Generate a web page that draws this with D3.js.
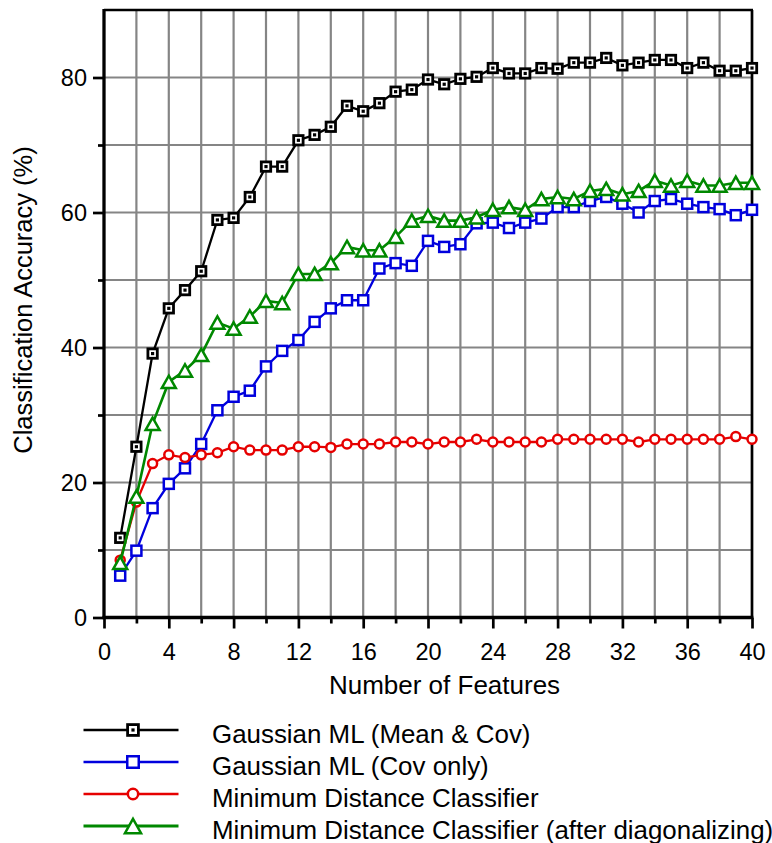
<!DOCTYPE html>
<html><head><meta charset="utf-8">
<script src="https://cdn.jsdelivr.net/npm/d3@7"></script>
<style>
html,body{margin:0;padding:0;background:#fff;}
svg{display:block;font-family:"Liberation Sans",Arial,Helvetica,sans-serif;}
</style></head>
<body>
<svg id="chart" width="772" height="843"></svg>
<script>
const features = [1,2,3,4,5,6,7,8,9,10,11,12,13,14,15,16,17,18,19,20,21,22,23,24,25,26,27,28,29,30,31,32,33,34,35,36,37,38,39,40];
const gaussMeanCov = [11.8,25.3,39.1,45.8,48.5,51.3,58.9,59.2,62.3,66.8, 66.8,70.7,71.5,72.7,75.8,75.0,76.2,77.9,78.2,79.7, 79.0,79.8,80.1,81.4,80.6,80.6,81.4,81.3,82.2,82.2, 82.9,81.8,82.2,82.6,82.6,81.4,82.2,81.0,81.0,81.4];
const gaussCovOnly = [6.2,9.9,16.2,19.8,22.1,25.7,30.7,32.7,33.6,37.2, 39.5,41.1,43.8,45.8,47.0,47.0,51.7,52.5,52.1,55.8, 54.9,55.3,58.4,58.5,57.7,58.5,59.1,60.8,60.8,61.7, 62.3,61.3,60.0,61.7,62.0,61.3,60.8,60.5,59.6,60.4];
const minDist = [8.5,17.1,22.8,24.1,23.7,24.1,24.4,25.3,24.8,24.8, 24.8,25.3,25.3,25.2,25.7,25.7,25.7,26.0,26.0,25.7, 26.0,26.0,26.4,26.0,26.0,26.0,26.0,26.4,26.4,26.4, 26.4,26.4,26.0,26.4,26.4,26.4,26.4,26.4,26.8,26.4];
const minDistDiag = [8.1,17.9,28.7,34.9,36.6,38.9,43.7,42.8,44.6,46.9, 46.6,50.9,50.9,52.5,54.9,54.4,54.4,56.4,58.8,59.5, 58.8,58.8,59.3,60.4,60.8,60.4,62.0,62.3,62.0,63.2, 63.5,62.7,63.2,64.7,64.0,64.7,64.0,64.0,64.4,64.4];
const seriesNames = ["Gaussian ML (Mean & Cov)","Gaussian ML (Cov only)","Minimum Distance Classifier","Minimum Distance Classifier (after diagonalizing)"];
const xTickLabels = [0,4,8,12,16,20,24,28,32,36,40];
const yTickLabels = [0,20,40,60,80];
const xLabel = "Number of Features";
const yLabel = "Classification Accuracy (%)";

const series = [
  {name: seriesNames[0], values: gaussMeanCov, color: "#000000", marker: "squareDot", lw: 2.3},
  {name: seriesNames[1], values: gaussCovOnly, color: "#0000dd", marker: "square", lw: 2.3},
  {name: seriesNames[2], values: minDist, color: "#e60000", marker: "circle", lw: 2.3},
  {name: seriesNames[3], values: minDistDiag, color: "#008800", marker: "triangle", lw: 2.6}
];

const svg = d3.select("#chart");
const L = 104, R = 752, T = 10, B = 617.5;
const x = d3.scaleLinear().domain([0,40]).range([L,R]);
const y = d3.scaleLinear().domain([0,90]).range([B,T]);

// grid
const grid = svg.append("g");
grid.selectAll("line.v").data(d3.range(2,40,2)).join("line")
  .attr("x1", d=>x(d)).attr("x2", d=>x(d)).attr("y1", y(0)).attr("y2", y(90))
  .attr("stroke", "#858585").attr("stroke-width", 2.2);
grid.selectAll("line.h").data(d3.range(10,90,10)).join("line")
  .attr("y1", d=>y(d)).attr("y2", d=>y(d)).attr("x1", x(0)).attr("x2", x(40))
  .attr("stroke", "#858585").attr("stroke-width", 2.2);

// frame top/right
svg.append("line").attr("x1", x(0)).attr("x2", x(40)+1).attr("y1", y(90)).attr("y2", y(90)).attr("stroke","#000").attr("stroke-width",2.7);
svg.append("line").attr("x1", x(40)).attr("x2", x(40)).attr("y1", y(90)).attr("y2", y(0)).attr("stroke","#000").attr("stroke-width",2.7);

// axes
const xAxis = d3.axisBottom(x).tickValues(d3.range(0,41,2)).tickSize(0).tickFormat("");
const gx = svg.append("g").attr("transform", `translate(0,${B})`).call(xAxis);
gx.select(".domain").remove();
gx.selectAll(".tick").append("line").attr("y1", 0).attr("y2", d => d % 4 === 0 ? 11 : 6).attr("stroke","#000").attr("stroke-width",2.7);
gx.selectAll(".tick").filter(d => xTickLabels.includes(d)).append("text")
  .attr("y", 42.5).attr("fill","#000").attr("text-anchor","middle")
  .style("font-size","23.5px").text(d=>d);

const yAxis = d3.axisLeft(y).tickValues(d3.range(0,91,10)).tickSize(0).tickFormat("");
const gy = svg.append("g").attr("transform", `translate(${L},0)`).call(yAxis);
gy.select(".domain").remove();
gy.selectAll(".tick").filter(d => d < 90).append("line").attr("x1", 0).attr("x2", d => d % 20 === 0 ? -11 : -6).attr("stroke","#000").attr("stroke-width",2.7);
gy.selectAll(".tick").filter(d => yTickLabels.includes(d)).append("text")
  .attr("x", -17).attr("dy","0.36em").attr("fill","#000").attr("text-anchor","end")
  .style("font-size","23.5px").text(d=>d);

svg.append("line").attr("x1", x(0)).attr("x2", x(0)).attr("y1", y(90)-1).attr("y2", y(0)+1.5).attr("stroke","#000").attr("stroke-width",3.3);
svg.append("line").attr("x1", x(0)-1.5).attr("x2", x(40)+1.3).attr("y1", y(0)).attr("y2", y(0)).attr("stroke","#000").attr("stroke-width",3.3);

// labels
svg.append("text").attr("x", 444.5).attr("y", 694).attr("text-anchor","middle")
  .style("font-size","26px").attr("fill","#000").text(xLabel);
svg.append("text").attr("transform","translate(31.5,300) rotate(-90)").attr("text-anchor","middle")
  .style("font-size","25.5px").attr("fill","#000").text(yLabel);

function drawMarker(g, type, color, scale) {
  const s = scale || 1;
  if (type === "squareDot") {
    g.append("rect").attr("x",-4.7*s).attr("y",-4.7*s).attr("width",9.4*s).attr("height",9.4*s)
      .attr("fill","#fff").attr("stroke",color).attr("stroke-width",2.8);
    g.append("rect").attr("x",-1.6).attr("y",-1.6).attr("width",3.2).attr("height",3.2).attr("fill",color);
  } else if (type === "square") {
    g.append("rect").attr("x",-5*s).attr("y",-5*s).attr("width",10*s).attr("height",10*s)
      .attr("fill","#fff").attr("stroke",color).attr("stroke-width",2.5);
  } else if (type === "circle") {
    g.append("circle").attr("r",4.5*s).attr("fill","#fff").attr("stroke",color).attr("stroke-width",2.5);
  } else if (type === "triangle") {
    const w = 7*s, h = 6.2*s;
    g.append("path").attr("d",`M0,${-h}L${w},${h}L${-w},${h}Z`)
      .attr("fill","#fff").attr("stroke",color).attr("stroke-width",2.5).attr("stroke-linejoin","miter");
  }
}

const line = d3.line().x((d,i)=>x(features[i])).y(d=>y(d));
series.forEach(s => {
  const g = svg.append("g");
  g.append("path").datum(s.values).attr("d", line).attr("fill","none")
    .attr("stroke", s.color).attr("stroke-width", s.lw);
  s.values.forEach((v,i) => {
    const m = g.append("g").attr("transform",`translate(${x(features[i])},${y(v)})`);
    drawMarker(m, s.marker, s.color, 1);
  });
});

// legend
const legY = [730, 762, 794, 826];
const leg = svg.append("g");
series.forEach((s,i) => {
  const gg = leg.append("g").attr("transform",`translate(0,${legY[i]})`);
  gg.append("line").attr("x1",83.5).attr("x2",178.5).attr("y1",0).attr("y2",0)
    .attr("stroke",s.color).attr("stroke-width",s.lw + 0.3);
  const m = gg.append("g").attr("transform","translate(133,0)");
  drawMarker(m, s.marker, s.color, 1.15);
  gg.append("text").attr("x",212).attr("y",12.5).style("font-size","25.9px").attr("fill","#000").text(s.name);
});
</script>
</body></html>
